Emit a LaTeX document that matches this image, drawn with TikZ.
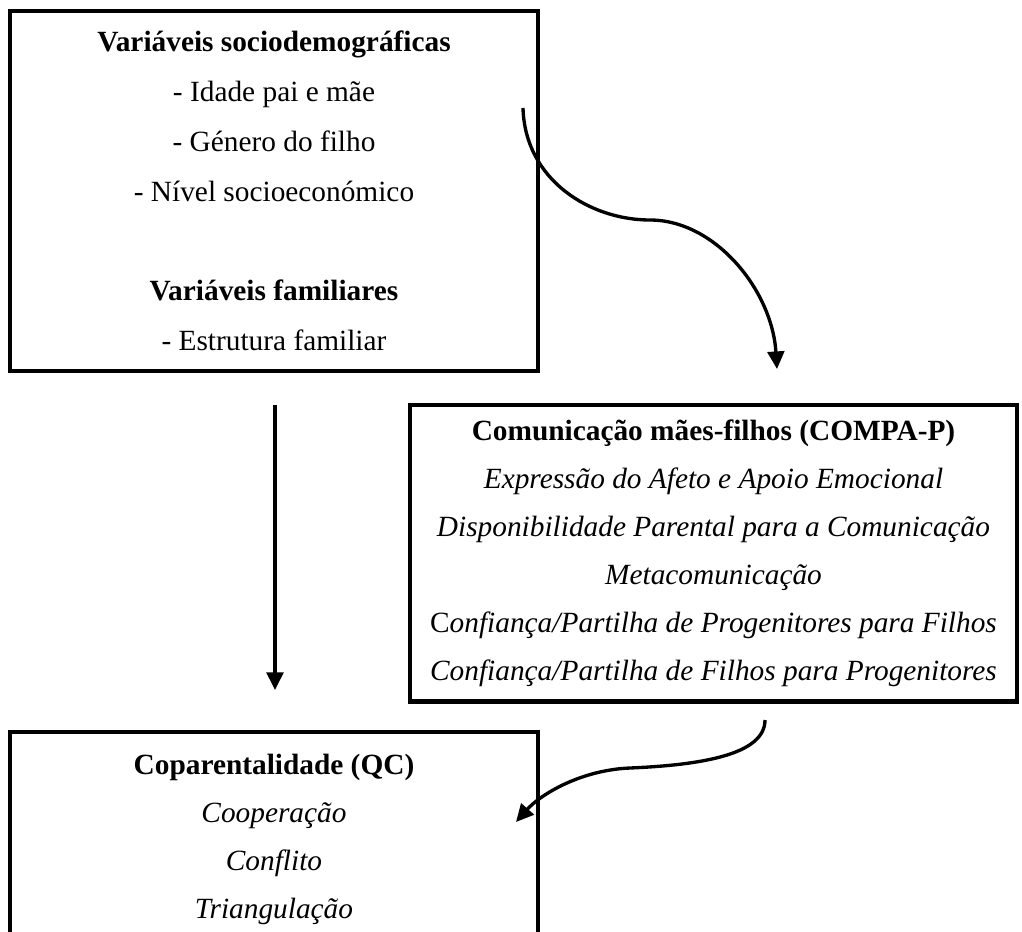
\documentclass[tikz,border=0pt]{standalone}
\usepackage{fontspec}
\setmainfont{Liberation Serif}
\usetikzlibrary{arrows.meta}
\tikzset{
  varbox/.style={draw, line width=2.3pt, align=center, inner sep=0pt,
    font=\fontsize{16.7}{28.4}\selectfont},
  flow/.style={line width=1.9pt, -{Triangle[length=10pt,width=9.5pt]}}
}
\begin{document}
\begin{tikzpicture}[x=0.02cm,y=-0.02cm]
\useasboundingbox (0,0) rectangle (1022,931);
\clip (0,0) rectangle (1022,931);
% boxes
\node[varbox, minimum width=10.56cm, minimum height=7.2cm] (socio) at (274,191)
  {\textbf{Variáveis sociodemográficas}\\
   - Idade pai e mãe\\
   - Género do filho\\
   - Nível socioeconómico\\
   \mbox{}\\
   \textbf{Variáveis familiares}\\
   - Estrutura familiar};
\node[varbox, minimum width=12.14cm, minimum height=5.94cm,
  font=\fontsize{16.7}{27.3}\selectfont] (compa) at (713.5,553)
  {\textbf{Comunicação mães-filhos (COMPA-P)}\\
   \textit{Expressão do Afeto e Apoio Emocional}\\
   \textit{Disponibilidade Parental para a Comunicação}\\
   \textit{Metacomunicação}\\
   C\textit{onfiança/Partilha de Progenitores para Filhos}\\
   \textit{Confiança/Partilha de Filhos para Progenitores}};
\node[varbox, minimum width=10.56cm, minimum height=4.3cm,
  font=\fontsize{16.7}{27.3}\selectfont] (coparent) at (274,839)
  {\textbf{Coparentalidade (QC)}\\
   \textit{Cooperação}\\
   \textit{Conflito}\\
   \textit{Triangulação}};
% arrow ends
\coordinate (a1) at (523,108);
\coordinate (a2) at (777,369);
\coordinate (b1) at (275,405);
\coordinate (b2) at (275,690);
\coordinate (c1) at (765,720);
\coordinate (c2) at (516,822);
% arrows
\draw[flow] (a1) .. controls (525,180) and (590,220) .. (650,220)
  .. controls (715,220) and (772,290) .. (a2);
\draw[flow] (b1) -- (b2);
\draw[flow] (c1) .. controls (765,755) and (700,765) .. (630,768)
  .. controls (580,770) and (540,795) .. (c2);
\end{tikzpicture}
\end{document}
